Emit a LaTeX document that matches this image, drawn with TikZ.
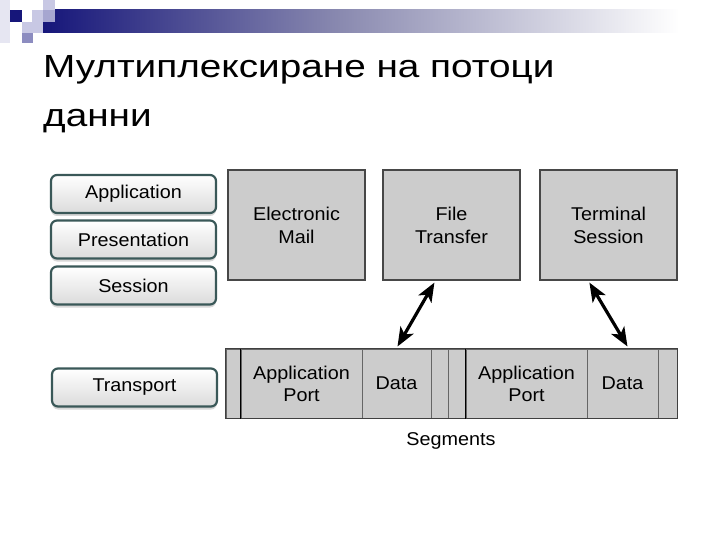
\documentclass[tikz,border=0pt]{standalone}
\usepackage{fontspec}
\setmainfont{Liberation Sans}
\newfontfamily\titlefont[FakeStretch=1.21]{Liberation Sans}
\newfontfamily\boxfont[FakeStretch=1.07]{Liberation Sans}
\usetikzlibrary{arrows.meta,calc,shadows}
\definecolor{navy}{HTML}{16167A}
\definecolor{hmid}{HTML}{8A8AB0}
\definecolor{layerborder}{HTML}{3A5858}
\definecolor{boxgray}{HTML}{CCCCCC}
\definecolor{sqA}{HTML}{E6E6F2}
\definecolor{sqB}{HTML}{C8C8E4}
\definecolor{sqC}{HTML}{A6A6D0}
\definecolor{sqD}{HTML}{8C8CC0}
\pgfdeclarehorizontalshading{hdrshade}{100bp}{color(0bp)=(navy); color(25bp)=(navy); color(47bp)=(hmid); color(72bp)=(white); color(100bp)=(white)}
\tikzset{
  layer/.style={draw=layerborder, line width=2.2pt, rounded corners=6pt,
    top color=white, bottom color=black!14, minimum width=165pt, minimum height=38pt,
    font=\boxfont\fontsize{18.5}{22}\selectfont,
    drop shadow={shadow xshift=0pt, shadow yshift=-3pt, fill=black!30, opacity=.5}},
  appbox/.style={draw=black!72, line width=1.2pt, fill=boxgray, minimum width=137pt,
    minimum height=110pt, align=center, font=\boxfont\fontsize{18.5}{23}\selectfont},
  segcell/.style={draw=black!60, line width=1pt, fill=boxgray, minimum height=69pt,
    inner sep=0pt, align=center, font=\boxfont\fontsize{18.5}{22}\selectfont},
  dblarrow/.style={line width=3.2pt, {Stealth[length=19pt,width=15pt,inset=5pt]}-{Stealth[length=19pt,width=15pt,inset=5pt]}},
}
\begin{document}
\begin{tikzpicture}[x=1pt,y=-1pt]
\useasboundingbox[fill=white] (0,0) rectangle (720,540);
% header decoration
\fill[sqA] (0,0) rectangle (10,43);
\shade[shading=hdrshade] (43,10) rectangle (720,33);
\fill[navy] (10,10) rectangle (22,22);
\fill[sqB] (43,0) rectangle (55,10);
\fill[sqB] (32,10) rectangle (43,22);
\fill[sqC] (43,10) rectangle (55,22);
\fill[sqB] (22,22) rectangle (43,33);
\fill[sqD] (22,33) rectangle (33,43);
% title
\node[anchor=base west, inner sep=0pt, font=\titlefont\fontsize{32}{40}\selectfont] (t1) at (43,78) {Мултиплексиране на потоци};
\node[anchor=base west, inner sep=0pt, font=\titlefont\fontsize{32}{40}\selectfont] (t2) at (43,127) {данни};
% layers
\node[layer] (app) at (133.5,194) {Application};
\node[layer] (pres) at (133.5,239.5) {Presentation};
\node[layer] (sess) at (133.5,285.5) {Session};
\node[layer] (trans) at (134.5,387.5) {Transport};
% application boxes
\node[appbox] (em) at (296.5,225) {Electronic\\Mail};
\node[appbox] (ft) at (451.5,225) {File\\Transfer};
\node[appbox] (ts) at (608.5,225) {Terminal\\Session};
% segments
\node[segcell, minimum width=15pt] (c0) at (233.5,383.5) {};
\node[segcell, minimum width=121pt] (ap1) at (301.5,383.5) {Application\\Port};
\node[segcell, minimum width=69pt] (d1) at (396.5,383.5) {Data};
\node[segcell, minimum width=17pt] (c1) at (439.5,383.5) {};
\node[segcell, minimum width=18pt] (c2) at (457,383.5) {};
\node[segcell, minimum width=121pt] (ap2) at (526.5,383.5) {Application\\Port};
\node[segcell, minimum width=71pt] (d2) at (622.5,383.5) {Data};
\node[segcell, minimum width=19pt] (c3) at (667.5,383.5) {};
\draw[black!75, line width=1.5pt] (c0.north west) rectangle (c3.south east);
\draw[black, line width=1.8pt] (ap1.north west) -- (ap1.south west);
\draw[black, line width=1.8pt] (ap2.north west) -- (ap2.south west);
\node[anchor=base, inner sep=0pt, font=\boxfont\fontsize{18.5}{22}\selectfont] (segl) at (451,445) {Segments};
% arrows
\coordinate (a1t) at ($(ft.south west)+(52,2)$);
\coordinate (a1b) at ($(d1.north west)+(36,-2)$);
\coordinate (a2t) at ($(ts.south west)+(50,2)$);
\coordinate (a2b) at ($(d2.north west)+(41,-2)$);
\draw[dblarrow] (a1t) -- (a1b);
\draw[dblarrow] (a2t) -- (a2b);
\end{tikzpicture}
\end{document}
